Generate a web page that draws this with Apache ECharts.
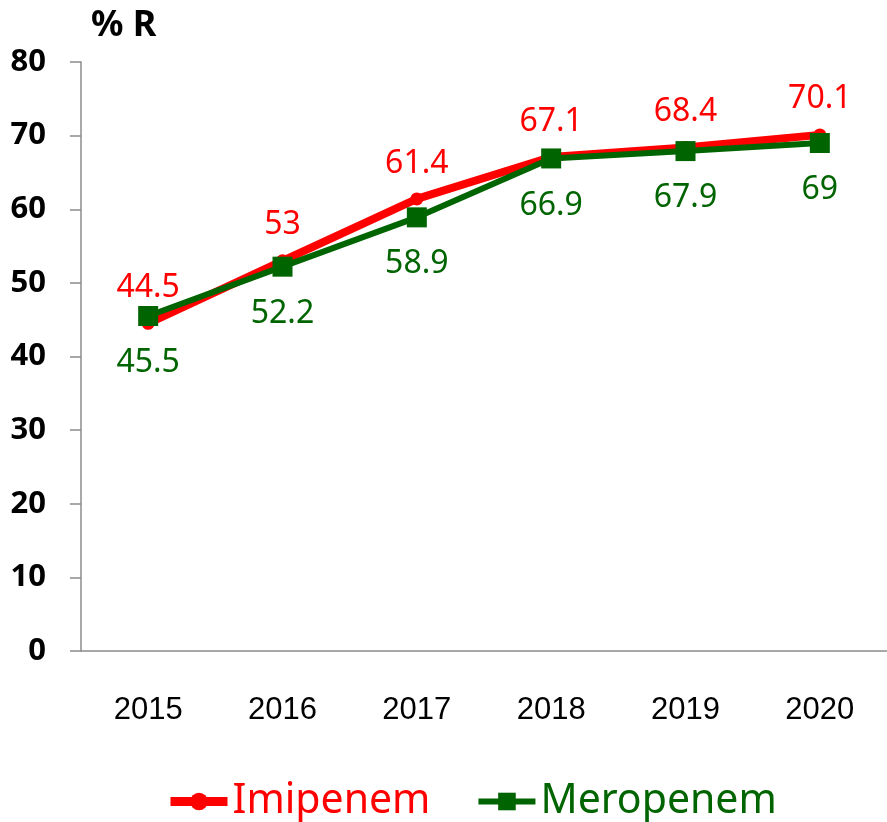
<!DOCTYPE html>
<html>
<head>
<meta charset="utf-8">
<script src="https://cdn.jsdelivr.net/npm/echarts@6/dist/echarts.min.js"></script>
<style>
  html, body { margin: 0; padding: 0; background: #fff; }
  #main { width: 887px; height: 822px; }
</style>
</head>
<body>
<div id="main"></div>
<script>
const years = ['2015', '2016', '2017', '2018', '2019', '2020']
const imipenem = [44.5, 53, 61.4, 67.1, 68.4, 70.1]
const meropenem = [45.5, 52.2, 58.9, 66.9, 67.9, 69]
const yTicks = [0, 10, 20, 30, 40, 50, 60, 70, 80]

const RED = '#ff0000'
const GREEN = '#006400'
const AXIS = '#8c8c8c'

const chart = echarts.init(document.getElementById('main'))

const option = {
  animation: false,
  title: {
    text: '% R',
    left: 86,
    top: 3,
    textStyle: { fontFamily: 'Noto Sans', fontWeight: 'bold', fontSize: 36, color: '#000' },
  },
  legend: {
    bottom: -5,
    left: 161,
    itemWidth: 57,
    itemHeight: 22,
    itemGap: 45,
    data: [
      { name: 'Imipenem', textStyle: { color: RED }, lineStyle: { width: 9 } },
      { name: 'Meropenem', textStyle: { color: GREEN }, lineStyle: { width: 6 } },
    ],
    textStyle: { fontFamily: 'Noto Sans', fontSize: 41 },
  },
  grid: { left: 81, right: -2, top: 62, bottom: 171, containLabel: false },
  xAxis: {
    type: 'category',
    data: years,
    boundaryGap: true,
    axisLine: { lineStyle: { color: AXIS, width: 1.5 } },
    axisTick: { length: 12, lineStyle: { color: AXIS, width: 1.5 } },
    axisLabel: { margin: 44, fontFamily: 'Liberation Sans', fontSize: 31, color: '#000' },
  },
  yAxis: {
    type: 'value',
    min: yTicks[0],
    max: yTicks[yTicks.length - 1],
    interval: 10,
    splitLine: { show: false },
    axisLine: { show: true, lineStyle: { color: AXIS, width: 1.5 } },
    axisTick: { show: true, length: 11, lineStyle: { color: AXIS, width: 1.5 } },
    axisLabel: { margin: 35, fontFamily: 'Noto Sans', fontWeight: 'bold', fontSize: 31, color: '#000' },
  },
  series: [
    {
      name: 'Imipenem',
      type: 'line',
      data: imipenem,
      color: RED,
      symbol: 'circle',
      symbolSize: 13,
      lineStyle: { width: 8, color: RED },
      itemStyle: { color: RED },
      label: {
        show: true,
        position: 'top',
        distance: 13,
        fontFamily: 'Noto Sans',
        fontSize: 32,
        color: RED,
      },
    },
    {
      name: 'Meropenem',
      type: 'line',
      data: meropenem,
      color: GREEN,
      symbol: 'rect',
      symbolSize: 20,
      lineStyle: { width: 6, color: GREEN },
      itemStyle: { color: GREEN },
      label: {
        show: true,
        position: 'bottom',
        distance: 21,
        fontFamily: 'Noto Sans',
        fontSize: 32,
        color: GREEN,
      },
    },
  ],
}

chart.setOption(option)
</script>
</body>
</html>
